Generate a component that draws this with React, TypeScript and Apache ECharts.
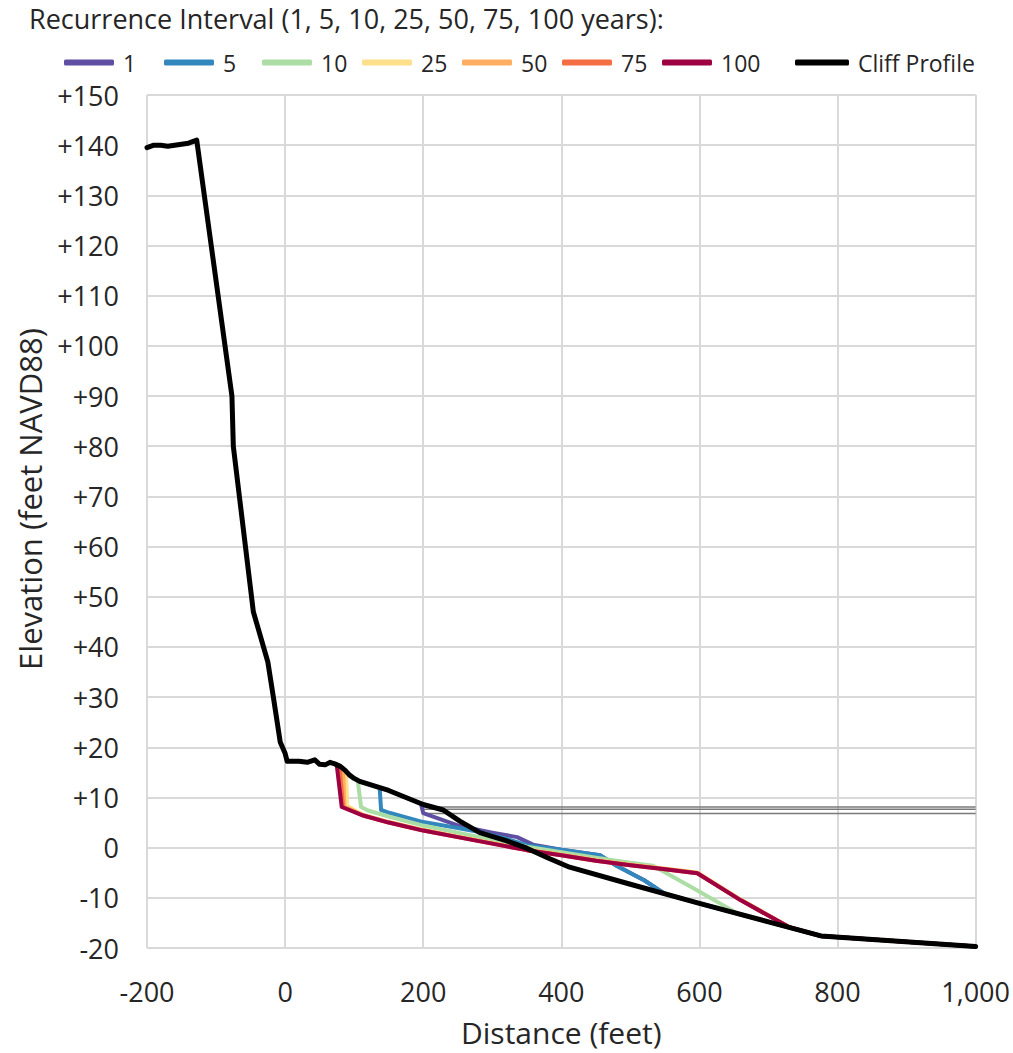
import React, { useEffect, useRef } from "react";
import * as echarts from "echarts";

const legendTitle = "Recurrence Interval (1, 5, 10, 25, 50, 75, 100 years):";
const seriesNames = ["1", "5", "10", "25", "50", "75", "100", "Cliff Profile"];
const seriesColors = ["#5e4fa2", "#3288bd", "#abdda4", "#fee08b", "#fdae61", "#f46d43", "#9e0142", "#000000"];
const yAxisTitle = "Elevation (feet NAVD88)";
const xAxisTitle = "Distance (feet)";

const cliffProfile: [number, number][] = [
  [-200, 139.5], [-190, 140], [-180, 140], [-170, 139.8], [-155, 140.1], [-140, 140.4], [-128, 141],
  [-77, 90], [-75, 80], [-46, 47], [-25, 37], [-17, 30], [-7, 21], [0, 18.8], [3, 17.2], [20, 17.2],
  [32, 17], [43, 17.5], [50, 16.6], [58, 16.5], [65, 17], [72, 16.7], [80, 16.2], [87, 15.4],
  [93, 14.5], [100, 13.8], [108, 13.2], [150, 11.4], [200, 8.6], [229, 7.5], [253, 5.3], [282, 3],
  [320, 1.4], [350, -0.1], [380, -2], [412, -3.9], [500, -7.3], [600, -11.1], [700, -14.8],
  [776, -17.6], [1000, -19.7],
];

const ri1: [number, number][] = [
  [197, 8.6], [200, 6.9], [253, 4.3], [300, 3], [336, 2.1], [359, 0.6], [400, -0.4], [456, -1.5],
  [480, -3.6], [520, -6.5], [550, -9.2], [600, -11.1], [700, -14.8], [776, -17.6], [1000, -19.7],
];
const ri5: [number, number][] = [
  [137, 11.8], [139, 7.5], [152, 6.9], [200, 5.1], [250, 3.9], [282, 3.1], [320, 1.8], [350, 0.5],
  [400, -0.4], [456, -1.5], [480, -3.6], [520, -6.5], [550, -9.2], [600, -11.1], [700, -14.8],
  [776, -17.6], [1000, -19.7],
];
const ri10: [number, number][] = [
  [105, 13.6], [110, 8.1], [120, 7.4], [150, 6.2], [200, 4.4], [250, 3], [300, 1.6], [350, 0.2],
  [400, -0.9], [450, -2], [500, -3], [533, -3.6], [590, -8], [655, -13.1], [700, -14.8],
  [776, -17.6], [1000, -19.7],
];
const ri25: [number, number][] = [
  [88, 15.3], [90, 8.3], [113, 6.5], [150, 5.1], [200, 3.5], [250, 2.2], [300, 0.9], [350, -0.4],
  [400, -1.4], [450, -2.5], [500, -3.4], [550, -4.2], [597, -5], [660, -10.4], [731, -15.9],
  [776, -17.6], [1000, -19.7],
];
const ri50: [number, number][] = [
  [84, 15.5], [86, 8.2], [113, 6.5], [150, 5.1], [200, 3.5], [250, 2.2], [300, 0.9], [350, -0.4],
  [400, -1.4], [450, -2.5], [500, -3.4], [550, -4.2], [597, -5], [660, -10.4], [731, -15.9],
  [776, -17.6], [1000, -19.7],
];
const ri75: [number, number][] = [
  [79, 16], [84, 8.1], [113, 6.4], [150, 5], [200, 3.4], [250, 2.1], [300, 0.8], [350, -0.5],
  [400, -1.5], [450, -2.6], [500, -3.5], [550, -4.3], [597, -5.1], [660, -10.5], [731, -15.9],
  [776, -17.6], [1000, -19.7],
];
const ri100: [number, number][] = [
  [75, 16.2], [82, 8.1], [113, 6.4], [150, 5], [200, 3.4], [250, 2.1], [300, 0.8], [350, -0.5],
  [400, -1.5], [450, -2.6], [500, -3.5], [550, -4.3], [597, -5.1], [660, -10.5], [731, -15.9],
  [776, -17.6], [1000, -19.7],
];

const waterLevels = [8.1, 7.65, 6.8];
const waterStart = 200;
const waterEnd = 1000;

const FONT = "'Open Sans', sans-serif";
const TEXT = "#262626";
const legendLefts = [59, 159, 257, 357, 457, 557, 657, 790];

export default function App() {
  const ref = useRef<HTMLDivElement>(null);
  useEffect(() => {
    if (!ref.current) return;
    const chart = echarts.init(ref.current, null, { renderer: "svg" });
    const dataSets = [ri1, ri5, ri10, ri25, ri50, ri75, ri100, cliffProfile];
    const waterSeries = waterLevels.map((lv, i) => ({
      name: "wl" + i,
      type: "line",
      data: [[waterStart, lv], [waterEnd, lv]],
      showSymbol: false,
      silent: true,
      lineStyle: { color: "#7a7a7a", width: 1.5 },
      z: 1,
    }));
    const mainSeries = dataSets.map((d, i) => ({
      name: seriesNames[i],
      type: "line",
      data: d,
      showSymbol: false,
      symbol: "none",
      color: seriesColors[i],
      lineStyle: { color: seriesColors[i], width: i === 7 ? 5 : 4, join: "round", cap: "round" },
      z: 2 + i,
    }));
    const legends = seriesNames.map((n, i) => ({
      data: [n],
      left: legendLefts[i],
      top: 46,
      icon: "roundRect",
      itemWidth: i === 7 ? 54 : 50,
      itemHeight: 6,
      itemGap: 0,
      textStyle: { fontFamily: FONT, fontSize: 23, color: TEXT, padding: [0, 0, 0, 4] },
    }));
    chart.setOption({
      animation: false,
      textStyle: { fontFamily: FONT },
      title: {
        text: legendTitle,
        left: 24,
        top: 0,
        textStyle: { fontFamily: FONT, fontSize: 27, fontWeight: "normal", color: TEXT },
      },
      legend: legends,
      grid: { left: 147, right: 37, top: 95, bottom: 105, containLabel: false },
      graphic: [
        {
          type: "text",
          x: 30,
          y: 499,
          rotation: Math.PI / 2,
          style: {
            text: yAxisTitle,
            fontFamily: FONT,
            fontSize: 31,
            fill: TEXT,
            align: "center",
            verticalAlign: "middle",
          },
        },
      ],
      xAxis: {
        type: "value",
        min: -200,
        max: 1000,
        interval: 200,
        name: xAxisTitle,
        nameLocation: "middle",
        nameGap: 69,
        nameTextStyle: { fontFamily: FONT, fontSize: 30, color: TEXT },
        axisLine: { show: false },
        axisTick: { show: false },
        axisLabel: {
          fontFamily: FONT,
          fontSize: 27,
          color: TEXT,
          margin: 30,
          formatter: (v: number) => v.toLocaleString("en-US"),
        },
        splitLine: { show: true, lineStyle: { color: "#d9d9d9", width: 2 } },
      },
      yAxis: {
        type: "value",
        min: -20,
        max: 150,
        interval: 10,
        axisLine: { show: false },
        axisTick: { show: false },
        axisLabel: {
          fontFamily: FONT,
          fontSize: 27,
          color: TEXT,
          margin: 28,
          formatter: (v: number) => (v > 0 ? "+" + v : String(v)),
        },
        splitLine: { show: true, lineStyle: { color: "#d9d9d9", width: 2 } },
      },
      series: [...waterSeries, ...mainSeries],
    });
    return () => chart.dispose();
  }, []);
  return <div ref={ref} style={{ width: 1013, height: 1053, position: "absolute", left: 0, top: 0 }} />;
}
